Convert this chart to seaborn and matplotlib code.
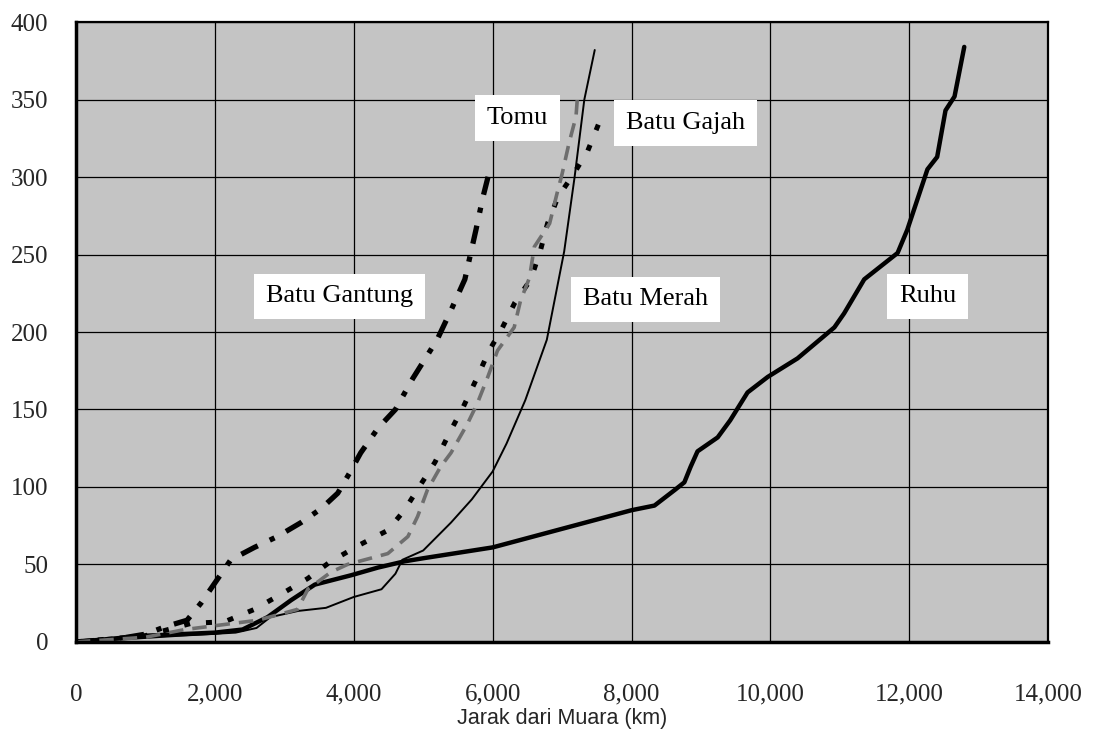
import matplotlib
matplotlib.use("Agg")
import matplotlib.pyplot as plt
import seaborn as sns
import pandas as pd

# jarak dari muara (km) dan elevasi tiap sungai
ruhu_x = [0, 500, 1000, 1500, 2000, 2400, 2760, 3100, 3440, 3960, 4350, 4730, 5000, 6000,
          7000, 8000, 8330, 8620, 8760, 8850, 8950, 9240, 9420, 9670, 9960, 10390, 10920,
          11060, 11350, 11830, 11970, 12260, 12400, 12520, 12650, 12790]
ruhu_y = [0, 2, 4, 5, 6, 8, 16, 27, 37, 43, 48, 52, 54, 61,
          73, 85, 88, 98, 103, 113, 123, 132, 143, 161, 171, 183, 203,
          212, 234, 251, 266, 305, 313, 343, 352, 384]

merah_x = [0, 800, 1500, 2300, 2600, 2800, 3200, 3600, 4000, 4400, 4600, 4700, 5000, 5400,
           5700, 6000, 6200, 6470, 6780, 7030, 7180, 7320, 7470]
merah_y = [0, 2, 4, 6, 9, 16, 20, 22, 29, 34, 44, 53, 59, 77,
           92, 110, 128, 156, 195, 252, 300, 350, 382]

gantung_x = [0, 600, 1000, 1300, 1600, 1800, 2000, 2230, 2570, 2900, 3240, 3530, 3770, 3940,
             4100, 4350, 4600, 4850, 5200, 5400, 5600, 5670, 5760, 5860, 5950]
gantung_y = [0, 2, 5, 10, 14, 25, 38, 53, 61, 68, 77, 86, 96, 109,
             122, 138, 150, 170, 195, 214, 234, 248, 266, 287, 303]

gajah_x = [0, 1000, 1660, 2140, 2570, 3000, 3340, 3670, 4100, 4490, 4730, 4970, 5170, 5380,
           5570, 5760, 5950, 6120, 6320, 6550, 6690, 6790, 6940, 7180, 7370, 7550]
gajah_y = [0, 4, 12, 13, 21, 32, 41, 52, 63, 72, 85, 102, 116, 135,
           151, 169, 188, 201, 219, 234, 253, 270, 287, 303, 317, 337]

tomu_x = [0, 1000, 1570, 2620, 3190, 3340, 3670, 3910, 4490, 4780, 4920, 5060, 5250, 5400,
          5640, 5780, 5930, 6070, 6310, 6400, 6530, 6600, 6820, 6930, 7000, 7100, 7200, 7220]
tomu_y = [0, 3, 8, 14, 21, 34, 45, 50, 57, 68, 81, 98, 113, 122,
          141, 154, 171, 188, 203, 220, 235, 255, 270, 290, 302, 322, 339, 351]

labels = ["Tomu", "Batu Gajah", "Batu Gantung", "Batu Merah", "Ruhu"]
label_x = [6360, 8780, 3800, 8200, 12260]
label_y = [338, 335, 223, 221, 223]

xticks = list(range(0, 14001, 2000))
yticks = list(range(0, 401, 50))

sns.set_style("white")
plt.rcParams["font.family"] = ["Liberation Serif", "DejaVu Serif"]

fig = plt.figure(figsize=(11, 7.37), dpi=100)
ax = fig.add_axes([0.069, 0.129, 0.884, 0.841])
ax.set_facecolor("#c4c4c4")

series = [
    (ruhu_x, ruhu_y, dict(color="black", linewidth=3.2, linestyle="-")),
    (merah_x, merah_y, dict(color="black", linewidth=1.4, linestyle="-")),
    (gantung_x, gantung_y, dict(color="black", linewidth=3.8, linestyle=(0, (3.5, 2.5, 1, 2.5)))),
    (gajah_x, gajah_y, dict(color="black", linewidth=3.6, linestyle=(0, (1.2, 3.2)))),
    (tomu_x, tomu_y, dict(color="#6e6e6e", linewidth=2.6, linestyle=(0, (4, 2.5)))),
]
for xs, ys, style in series:
    df = pd.DataFrame({"x": xs, "y": ys})
    sns.lineplot(data=df, x="x", y="y", ax=ax, sort=False, estimator=None, **style)

for txt, tx, ty in zip(labels, label_x, label_y):
    ax.text(tx, ty, txt, fontsize=19, ha="center", va="center", color="black",
            bbox=dict(boxstyle="square,pad=0.45", facecolor="white", edgecolor="none"))

ax.set_xlim(0, 14000)
ax.set_ylim(0, 400)
ax.set_xticks(xticks)
ax.set_yticks(yticks)
ax.set_xticklabels([f"{v:,}" for v in xticks])
ax.set_yticklabels([str(v) for v in yticks])
ax.tick_params(axis="both", length=0, labelsize=18)
ax.tick_params(axis="x", pad=30)
ax.tick_params(axis="y", pad=20)
ax.grid(True, color="black", linewidth=0.9)
ax.set_axisbelow(True)
for side in ["left", "right", "top", "bottom"]:
    ax.spines[side].set_visible(True)
    ax.spines[side].set_color("black")
    ax.spines[side].set_linewidth(1.6)
ax.spines["left"].set_linewidth(2.5)
ax.spines["bottom"].set_linewidth(2.5)

ax.set_ylabel("")
ax.set_xlabel("Jarak dari Muara (km)", fontsize=15.5, family=["Liberation Sans", "DejaVu Sans"],
              labelpad=2)

fig.savefig("out.png", dpi=100)
